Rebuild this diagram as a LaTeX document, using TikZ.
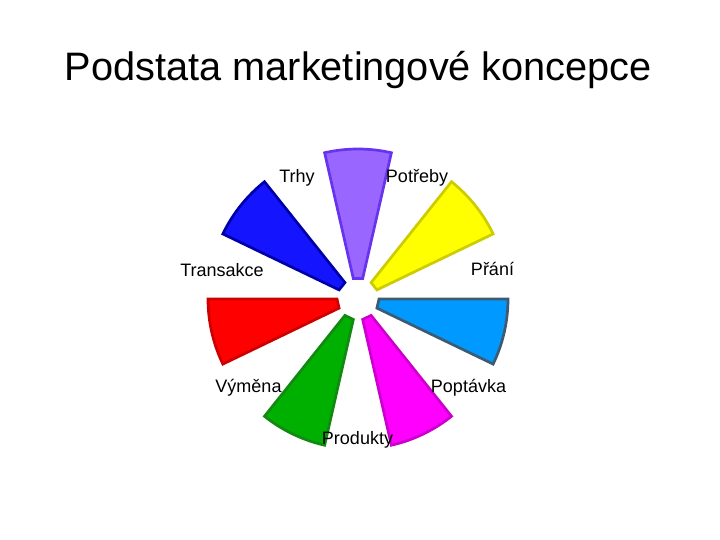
\documentclass[tikz,border=0pt]{standalone}
\usepackage{fontspec}
\setmainfont{Liberation Sans}
\definecolor{pfill}{HTML}{9966FF}\definecolor{pdraw}{HTML}{6633EE}
\definecolor{yfill}{HTML}{FFFF00}\definecolor{ydraw}{HTML}{CCCC00}
\definecolor{lfill}{HTML}{0099FF}\definecolor{ldraw}{HTML}{3D5A73}
\definecolor{mfill}{HTML}{FF00FF}\definecolor{mdraw}{HTML}{CC00CC}
\definecolor{gfill}{HTML}{00B000}\definecolor{gdraw}{HTML}{128A12}
\definecolor{rfill}{HTML}{FF0000}\definecolor{rdraw}{HTML}{CC0000}
\definecolor{bfill}{HTML}{1414FF}\definecolor{bdraw}{HTML}{0000AA}
\tikzset{
  wedge/.style={line width=2.7pt},
  lbl/.style={anchor=base, inner sep=0pt, font=\fontsize{18}{21}\selectfont},
}
\begin{document}
\begin{tikzpicture}[x=1pt,y=1pt]
\useasboundingbox (0,0) rectangle (720,540);
\node[anchor=base, inner sep=0pt, font=\fontsize{39.7}{47}\selectfont] (title) at (358.5,459) {Podstata marketingové koncepce};
\coordinate (c) at (358,241);
\foreach \a/\f/\d in {90/pfill/pdraw, 38.57/yfill/ydraw, -12.86/lfill/ldraw, -64.29/mfill/mdraw, -115.71/gfill/gdraw, -167.14/rfill/rdraw, 141.43/bfill/bdraw}{
  \pgfmathsetmacro{\s}{\a-12.86}
  \pgfmathsetmacro{\e}{\a+12.86}
  \draw[wedge, fill=\f, draw=\d, shift={(c)}] (\s:21) -- (\s:150) arc[start angle=\s, end angle=\e, radius=150] -- (\e:21) -- cycle;
}
\node[lbl] (trhy) at (297,357) {Trhy};
\node[lbl] (potreby) at (417,357) {Potřeby};
\node[lbl] (transakce) at (222,263) {Transakce};
\node[lbl] (prani) at (492.5,264) {Přání};
\node[lbl] (vymena) at (248.5,147) {Výměna};
\node[lbl] (poptavka) at (468.5,147) {Poptávka};
\node[lbl] (produkty) at (357.5,95) {Produkty};
\end{tikzpicture}
\end{document}
